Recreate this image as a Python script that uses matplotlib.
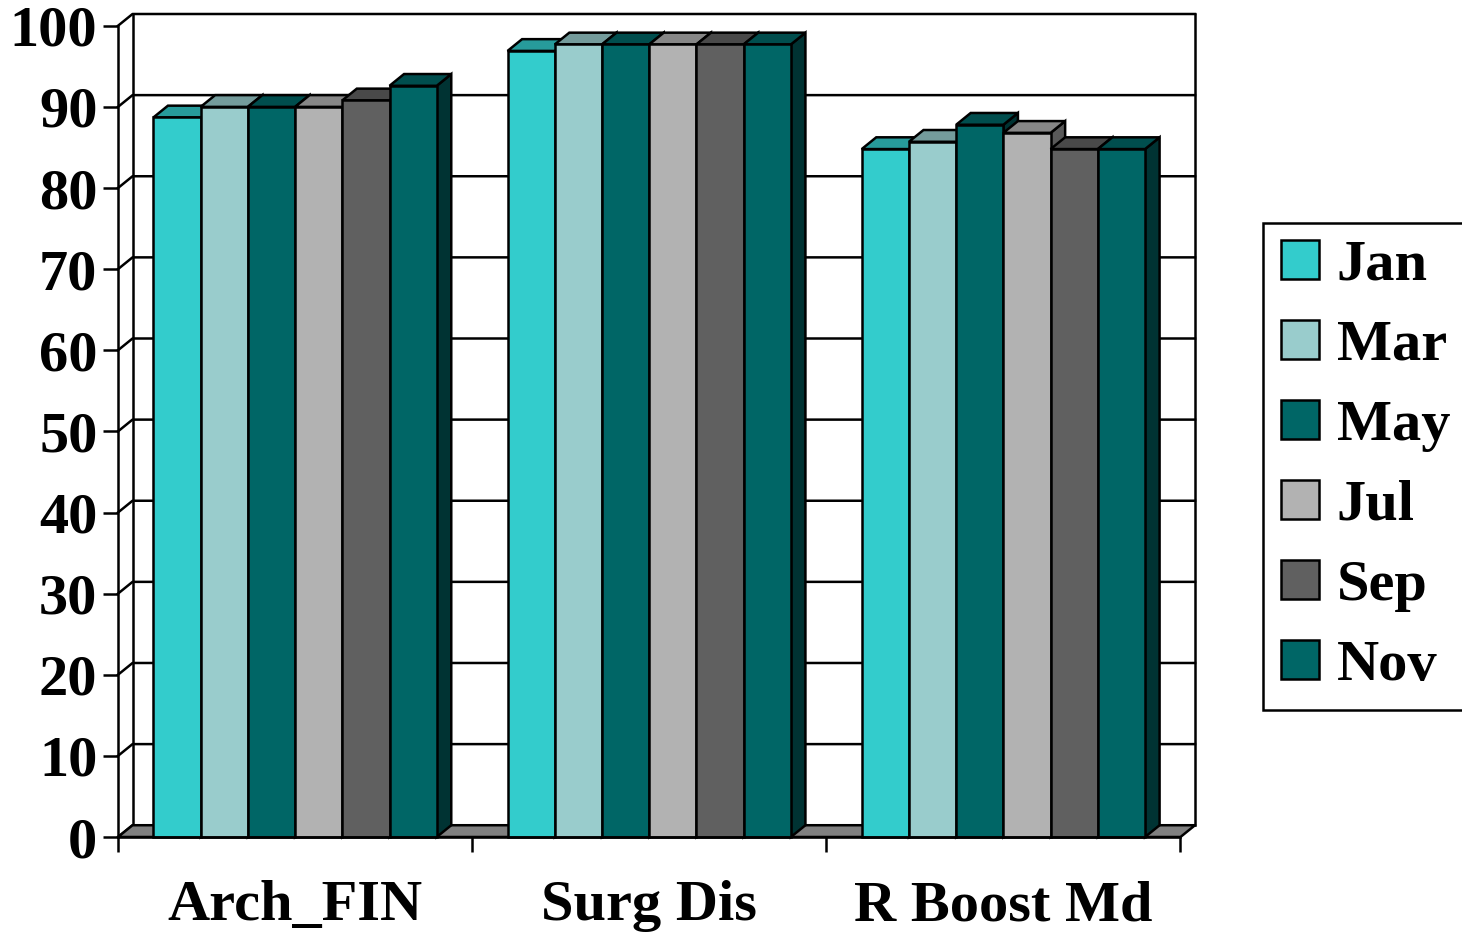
import matplotlib.pyplot as plt
from matplotlib.patches import Polygon, Patch
from matplotlib.colors import to_rgb
import numpy as np

plt.rcParams['font.family'] = ['Liberation Serif', 'DejaVu Serif']
plt.rcParams['font.weight'] = 'bold'

# data
categories = ['Arch_FIN', 'Surg Dis', 'R Boost Md']
months = ['Jan', 'Mar', 'May', 'Jul', 'Sep', 'Nov']
colors = ['#33CCCC', '#99CCCC', '#006666', '#B2B2B2', '#606060', '#006666']
jan = [88.7, 96.9, 84.8]
mar = [90.0, 97.7, 85.7]
may = [90.0, 97.7, 87.8]
jul = [90.0, 97.7, 86.8]
sep = [90.8, 97.7, 84.8]
nov = [92.6, 97.7, 84.8]
series = [jan, mar, may, jul, sep, nov]

# fake 3D depth (x in category units, y in value units)
dx, dy = 0.041, 1.45
bar_w = 1 / 7.5
gap = 0.75 / 7.5
lw = 1.8


def shade(c, f):
    return tuple(np.array(to_rgb(c)) * f)


fig = plt.figure(figsize=(14.62, 9.32), dpi=100)
ax = fig.add_axes([118 / 1462, 95 / 932, 1077 / 1462, 823 / 932])
ax.set_xlim(0, 3 + dx)
ax.set_ylim(0, 100 + dy)

# back wall, side wall and gridlines
for v in range(0, 101, 10):
    ax.plot([0, dx, 3 + dx], [v, v + dy, v + dy], color='black', lw=lw,
            zorder=1, clip_on=False)
ax.plot([dx, dx], [dy, 100 + dy], color='black', lw=lw, zorder=1, clip_on=False)
ax.plot([3 + dx, 3 + dx], [dy, 100 + dy], color='black', lw=lw, zorder=1, clip_on=False)
ax.add_patch(Polygon([(0, 0), (3, 0), (3 + dx, dy), (dx, dy)], closed=True,
                     fc='#808080', ec='black', lw=lw, zorder=1.5, clip_on=False))

# bars
for i in range(len(categories)):
    for j, vals in enumerate(series):
        x0 = i + gap + j * bar_w
        x1 = x0 + bar_w
        h = vals[i]
        z = 2 + i * 10 + j
        c = colors[j]
        ax.add_patch(Polygon([(x1, 0), (x1 + dx, dy), (x1 + dx, h + dy), (x1, h)],
                             fc=shade(c, 0.5), ec='black', lw=lw, zorder=z, clip_on=False))
        ax.add_patch(Polygon([(x0, h), (x1, h), (x1 + dx, h + dy), (x0 + dx, h + dy)],
                             fc=shade(c, 0.76), ec='black', lw=lw, zorder=z, clip_on=False))
        ax.add_patch(Polygon([(x0, 0), (x1, 0), (x1, h), (x0, h)],
                             fc=c, ec='black', lw=lw, zorder=z, clip_on=False))

# axes
for s in ['top', 'right']:
    ax.spines[s].set_visible(False)
ax.spines['left'].set_bounds(0, 100)
ax.spines['bottom'].set_bounds(0, 3)
for s in ['left', 'bottom']:
    ax.spines[s].set_linewidth(lw)
    ax.spines[s].set_zorder(50)

ax.set_yticks(range(0, 101, 10))
ax.tick_params(axis='y', length=10.8, width=lw, pad=4, labelsize=42)
ax.set_xticks([0, 1, 2, 3])
ax.set_xticklabels([])
ax.set_xticks([0.5, 1.5, 2.5], minor=True)
ax.set_xticklabels(categories, minor=True)
ax.tick_params(axis='x', which='major', length=10.8, width=lw)
ax.tick_params(axis='x', which='minor', length=0, pad=31, labelsize=42)

handles = [Patch(fc=c, ec='black', lw=lw) for c in colors]
leg = fig.legend(handles, months, loc='center left',
                 bbox_to_anchor=(1263 / 1462, 1 - 466 / 932),
                 fontsize=42, frameon=True, fancybox=False, framealpha=1,
                 edgecolor='black', handlelength=0.66, handleheight=0.64,
                 handletextpad=0.3, labelspacing=0.48, borderpad=0.3,
                 borderaxespad=0)
leg.get_frame().set_linewidth(lw)

fig.savefig('out.png', dpi=100)
